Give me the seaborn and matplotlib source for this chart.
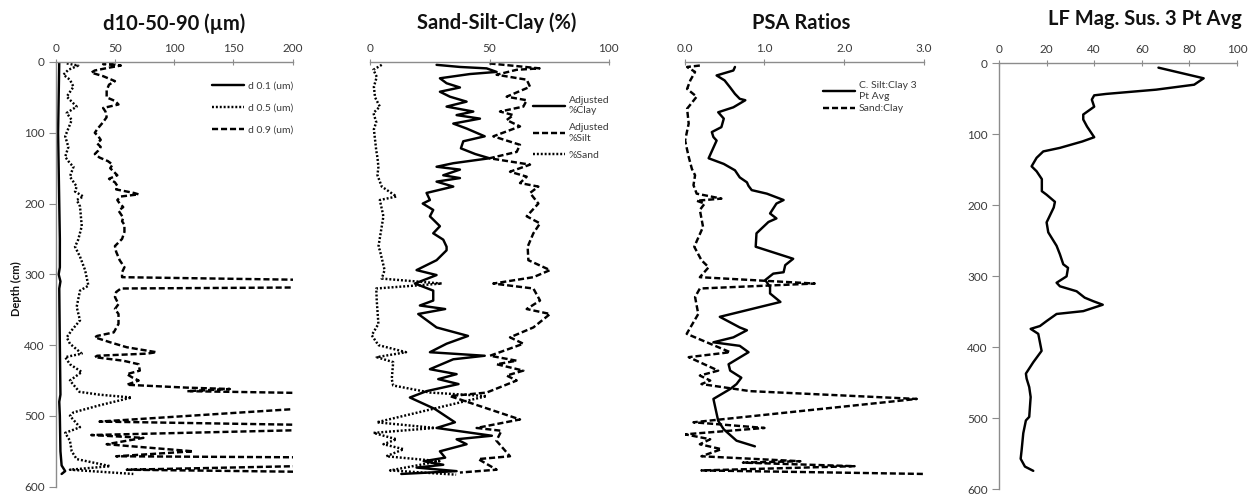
import numpy as np
import pandas as pd
import matplotlib
matplotlib.use("Agg")
import matplotlib.pyplot as plt
import seaborn as sns

# ---------------- data ----------------
# Grain size percentiles (um) by depth (cm)
d10_depth = [0, 50, 100, 150, 200, 250, 290, 300, 310, 320, 400, 470, 480, 500, 550, 570, 578, 582]
d10_vals = [3, 2.5, 2, 2.5, 3, 3.5, 3.5, 2.5, 4, 3, 3.5, 4, 3, 3.5, 4, 5, 8, 5]

d50_depth = [2, 5, 11, 18, 25, 35, 49, 63, 72, 82, 105, 120, 134, 143, 148, 162, 176, 183, 190,
             195, 204, 232, 251, 261, 275, 294, 316, 323, 346, 365, 379, 389, 398, 412, 417, 427,
             438, 450, 466, 470, 474, 485, 495, 500, 516, 524, 535, 550, 561, 571, 576, 582]
d50_vals = [9.3, 19, 10.7, 6.5, 12, 15, 9.3, 17.7, 9.3, 13.5, 8, 10.7, 8, 12, 15, 12, 17.7, 16.3, 23.3,
            17.7, 20.5, 22, 19, 16.3, 20.5, 24.8, 27.6, 20.5, 17.7, 20.5, 13.5, 9.3, 12, 22, 8, 12,
            22, 12, 20, 37, 64, 37, 15, 12, 20.5, 8, 12, 13.5, 17.7, 46, 12, 65.5]

d90_depth = [0, 3, 5, 8, 12, 15, 20, 27, 32, 40, 50, 55, 60, 65, 70, 78, 85, 95, 100, 105, 110,
             115, 120, 125, 130, 135, 140, 145, 150, 155, 160, 165, 170, 175, 180, 185, 187, 190,
             195, 200, 205, 210, 215, 220, 225, 230, 240, 250, 255, 260, 268, 280, 290, 297, 304,
             309, 318, 320, 325, 332, 342, 349, 356, 370, 382, 387, 389, 396, 403, 410, 412, 415,
             417, 422, 427, 436, 441, 446, 450, 456, 460, 462, 465, 469, 484, 508, 514, 518, 527,
             531, 540, 550, 557, 559, 569, 576, 580]
d90_vals = [50, 40, 55, 45, 33, 30, 40, 50, 45, 43, 43, 50, 53, 40, 42, 43, 40, 35, 33, 36, 38,
            35, 38, 36, 33, 37, 44, 48, 46, 49, 52, 45, 50, 52, 51, 66, 70, 55,
            52, 54, 57, 53, 55, 57, 56, 58, 58, 56, 53, 50, 51, 54, 58, 56, 56,
            260, 260, 55, 51, 50, 53, 50, 53, 53, 49, 35, 33, 46, 60, 85, 77, 35,
            33, 57, 70, 71, 60, 65, 70, 60, 110, 147, 111, 260, 260, 37, 260, 260, 30,
            74, 43, 116, 51, 260, 260, 60, 260]

# Texture fractions (%)
clay_depth = [4, 7, 9, 14, 17, 23, 30, 36, 42, 49, 56, 63, 70, 75, 80, 87, 94, 105, 112, 122, 130,
              136, 143, 148, 152, 160, 164, 169, 176, 185, 195, 200, 209, 218, 232, 242, 251, 261,
              266, 280, 294, 301, 313, 323, 337, 344, 349, 356, 375, 387, 398, 410, 415, 420, 434,
              441, 448, 455, 465, 474, 490, 509, 517, 528, 533, 540, 550, 559, 564, 569, 573, 578, 582]
clay_vals = [27.8, 37.6, 48.8, 53, 41.8, 29.2, 32, 37.6, 29.2, 33.4, 40.4, 32, 43.2, 36.2, 46, 34.8,
             40.4, 48, 39, 38, 44, 50, 34.8, 27.8, 37.6, 30.6, 37.6, 27.8, 34.8, 23.6, 25, 22, 26.4,
             25, 29.2, 26.4, 30.6, 32, 32, 27.8, 19.4, 27.8, 18.7, 26.4, 26.4, 20.8, 31.4, 20.1,
             27.8, 41, 32, 25, 48, 34.8, 25, 36.2, 28.5, 37, 23.6, 16.6, 27, 35.5, 27.8, 51, 36.2,
             40.4, 29.2, 31.4, 22.4, 30.6, 19.4, 36.2, 13]

silt_depth = [2, 9, 11, 18, 25, 35, 49, 54, 63, 70, 75, 82, 91, 105, 117, 127, 136, 145, 155, 162,
              171, 176, 185, 200, 218, 228, 242, 261, 280, 294, 304, 313, 320, 337, 349, 356, 375,
              389, 398, 415, 422, 427, 436, 443, 450, 467, 472, 505, 517, 521, 535, 557, 561, 576, 580]
silt_vals = [50, 71, 61.4, 53, 65.6, 67, 57.2, 65.6, 64.2, 54.4, 60, 57.2, 62.8, 51.6, 62.8, 61.4,
             50, 67, 58.6, 65.6, 62.8, 70.5, 67, 70.5, 65.6, 71.2, 68.4, 66, 66.3, 75.4, 68.4, 51.6,
             68.4, 71.2, 65.6, 75.4, 68.4, 58.6, 64.2, 50.2, 61.4, 53, 64.2, 57.2, 61.4, 48.8, 33.4,
             62.8, 44.6, 55, 52.9, 58.6, 45.3, 53, 37.6]

sand_depth = [4, 11, 21, 35, 50, 63, 72, 85, 95, 110, 125, 135, 148, 160, 176, 190, 195, 218, 261,
              266, 294, 306, 313, 320, 337, 370, 386, 400, 410, 417, 424, 448, 457, 467, 472, 509,
              517, 524, 533, 540, 547, 557, 564, 577, 583]
sand_vals = [4.8, 1.3, 2.7, 1.5, 2, 4, 1.3, 2.5, 1.5, 2, 2.5, 3, 3.4, 3, 4.8, 11, 4, 5.5, 3.4,
             4, 6, 4.8, 30, 2.5, 2.7, 3.4, 0.6, 3.4, 15, 2.7, 9.6, 9, 9.6, 25, 48.8, 2.7,
             27, 1.3, 11, 5.5, 14, 6.7, 29, 8.3, 36]

# Particle size ratios
csc_depth = [7, 12, 19, 26, 36, 45, 52, 54, 64, 71, 80, 92, 99, 106, 111, 136, 144, 153, 163, 170,
             175, 181, 186, 195, 200, 214, 221, 226, 242, 261, 278, 287, 297, 299, 308, 318, 327,
             339, 360, 375, 379, 389, 396, 401, 410, 427, 436, 446, 455, 462, 476, 507, 519, 531,
             535, 543]
csc_vals = [0.63, 0.61, 0.4, 0.5, 0.57, 0.63, 0.69, 0.76, 0.61, 0.42, 0.49, 0.46, 0.34, 0.36, 0.4,
            0.3, 0.49, 0.63, 0.69, 0.78, 0.8, 0.84, 1.03, 1.24, 1.15, 1.07, 1.15, 1.05, 0.9, 0.89,
            1.36, 1.26, 1.24, 1.11, 1.01, 1.07, 1.07, 1.2, 0.44, 0.69, 0.78, 0.61, 0.36, 0.69, 0.8,
            0.55, 0.57, 0.71, 0.65, 0.57, 0.36, 0.42, 0.49, 0.61, 0.65, 0.88]

sc_depth = [5, 7, 14, 26, 38, 49, 66, 87, 111, 134, 151, 160, 174, 186, 193, 196, 200, 209, 233,
            261, 280, 290, 304, 313, 320, 332, 356, 384, 410, 417, 436, 443, 450, 455, 465, 476,
            509, 517, 526, 533, 540, 547, 557, 564, 566, 571, 577, 582]
sc_vals = [0.19, 0.03, 0.13, 0.07, 0.03, 0.15, 0.03, 0.05, 0.005, 0.05, 0.09, 0.13, 0.11, 0.15, 0.46,
           0.15, 0.25, 0.19, 0.23, 0.12, 0.21, 0.3, 0.19, 1.63, 0.19, 0.13, 0.17, 0.025, 0.57, 0.05,
           0.42, 0.19, 0.32, 0.21, 0.82, 2.91, 0.11, 1.0, 0.005, 0.32, 0.19, 0.46, 0.21, 1.45, 0.73,
           2.13, 0.21, 3.0]

# Low-frequency magnetic susceptibility, 3-point running mean
ms_depth = [6, 21, 30, 37, 43, 45, 51, 61, 72, 79, 89, 104, 110, 119, 124, 133, 145, 152, 163, 180,
            185, 195, 203, 224, 238, 257, 269, 283, 288, 300, 309, 314, 321, 330, 335, 340, 349,
            353, 363, 370, 374, 381, 393, 405, 421, 437, 444, 456, 470, 498, 503, 521, 545, 557,
            568, 574]
ms_vals = [67, 86, 82, 66, 45, 40, 39, 40, 35.4, 35.4, 37, 40, 35, 25.6, 18.6, 15.8, 13.7, 15.8, 18,
           18, 20, 23.5, 23, 20, 20.7, 24.2, 25.6, 27, 29, 28.4, 24.2, 25.6, 32.6, 36, 39.6, 43.6,
           35.4, 24.2, 20, 17.2, 13.3, 16.5, 17.2, 17.9, 14.4, 11.3, 11.6, 12.7, 13.3, 12.7, 11.3,
           10.2, 9.5, 9.1, 10.9, 14.4]

depth_ticks = [0, 100, 200, 300, 400, 500, 600]

# ---------------- styling ----------------
sns.set_theme(style="white")
plt.rcParams["font.family"] = ["Lato", "DejaVu Sans"]
plt.rcParams["axes.linewidth"] = 1.0

AXIS_GREY = "#8c8c8c"
TEXT_GREY = "#3a3a3a"
LW = 1.75
SOLID = "-"
DASHED = (0, (2.5, 1.2))
DOTTED = (0, (0.8, 0.8))

W, H = 1259, 498
fig = plt.figure(figsize=(W / 100, H / 100), dpi=100)


def frame(left_px, right_px, top_px, bottom_px):
    return fig.add_axes([left_px / W, 1 - bottom_px / H,
                         (right_px - left_px) / W, (bottom_px - top_px) / H])


def style_depth_axis(ax, xmax, xticks, xlabels, show_depth):
    ax.set_ylim(600, 0)
    ax.set_xlim(0, xmax)
    ax.xaxis.tick_top()
    ax.set_xticks(xticks)
    ax.set_xticklabels(xlabels)
    ax.set_xlabel("")
    ax.set_ylabel("")
    for side in ("right", "bottom"):
        ax.spines[side].set_visible(False)
    ax.spines["top"].set_color(AXIS_GREY)
    ax.tick_params(axis="x", which="both", top=True, bottom=False, direction="inout",
                   length=4, width=0.8, color=AXIS_GREY, pad=4,
                   labelsize=8.5, labelcolor=TEXT_GREY)
    if show_depth:
        ax.spines["left"].set_color(AXIS_GREY)
        ax.set_yticks(depth_ticks)
        ax.tick_params(axis="y", left=True, direction="out", length=5, width=0.8,
                       color=AXIS_GREY, pad=3, labelsize=8.5, labelcolor=TEXT_GREY)
    else:
        ax.spines["left"].set_visible(False)
        ax.set_yticks([])
    ax.grid(False)
    ax.set_facecolor("none")


def draw(ax, vals, depth, ls, label):
    sns.lineplot(x=vals, y=depth, orient="y", sort=False, estimator=None, ax=ax,
                 color="black", linewidth=LW, linestyle=ls, label=label, legend=False)


def legend(ax, x, y, spacing):
    ax.legend(loc="upper left", bbox_to_anchor=(x, y), frameon=False, fontsize=7.5,
              handlelength=3.1, handletextpad=0.35, labelspacing=spacing, borderpad=0,
              borderaxespad=0, labelcolor=TEXT_GREY)


# Panel 1: grain size percentiles
ax1 = frame(55.7, 292.7, 62, 486.7)
draw(ax1, d10_vals, d10_depth, SOLID, "d 0.1 (um)")
draw(ax1, d50_vals, d50_depth, DOTTED, "d 0.5 (um)")
draw(ax1, d90_vals, d90_depth, DASHED, "d 0.9 (um)")
style_depth_axis(ax1, 200, [0, 50, 100, 150, 200], ["0", "50", "100", "150", "200"], True)
legend(ax1, 0.66, 0.955, 1.25)

# Panel 2: sand / silt / clay
ax2 = frame(370.3, 608.7, 62, 486.7)
draw(ax2, clay_vals, clay_depth, SOLID, "Adjusted\n%Clay")
draw(ax2, silt_vals, silt_depth, DASHED, "Adjusted\n%Silt")
draw(ax2, sand_vals, sand_depth, DOTTED, "%Sand")
style_depth_axis(ax2, 100, [0, 50, 100], ["0", "50", "100"], False)
legend(ax2, 0.682, 0.92, 0.75)

# Panel 3: particle size ratios
ax3 = frame(684.7, 924.0, 62, 486.7)
draw(ax3, csc_vals, csc_depth, SOLID, "C. Silt:Clay 3\nPt Avg")
draw(ax3, sc_vals, sc_depth, DASHED, "Sand:Clay")
style_depth_axis(ax3, 3.0, [0, 1, 2, 3], ["0.0", "1.0", "2.0", "3.0"], False)
legend(ax3, 0.578, 0.955, 0.35)

# Panel 4: magnetic susceptibility
ax4 = frame(999.0, 1237.0, 63.4, 489.3)
draw(ax4, ms_vals, ms_depth, SOLID, None)
style_depth_axis(ax4, 100, [0, 20, 40, 60, 80, 100], ["0", "20", "40", "60", "80", "100"], True)

# Panel titles
title_kw = dict(ha="center", va="baseline", fontsize=14.5, fontweight="bold", color="#111111")
fig.text(174 / W, 1 - 30 / H, "d10-50-90 (µm)", **title_kw)
fig.text(497 / W, 1 - 29 / H, "Sand-Silt-Clay (%)", **title_kw)
fig.text(801 / W, 1 - 29 / H, "PSA Ratios", **title_kw)
fig.text(1145 / W, 1 - 25 / H, "LF Mag. Sus. 3 Pt Avg", **title_kw)

# Shared depth label
fig.text(16 / W, 1 - 289 / H, "Depth (cm)", rotation=90, ha="center", va="center",
         fontsize=8, fontweight="bold", color="#111111")

fig.savefig("out.png", dpi=100, facecolor="white")
